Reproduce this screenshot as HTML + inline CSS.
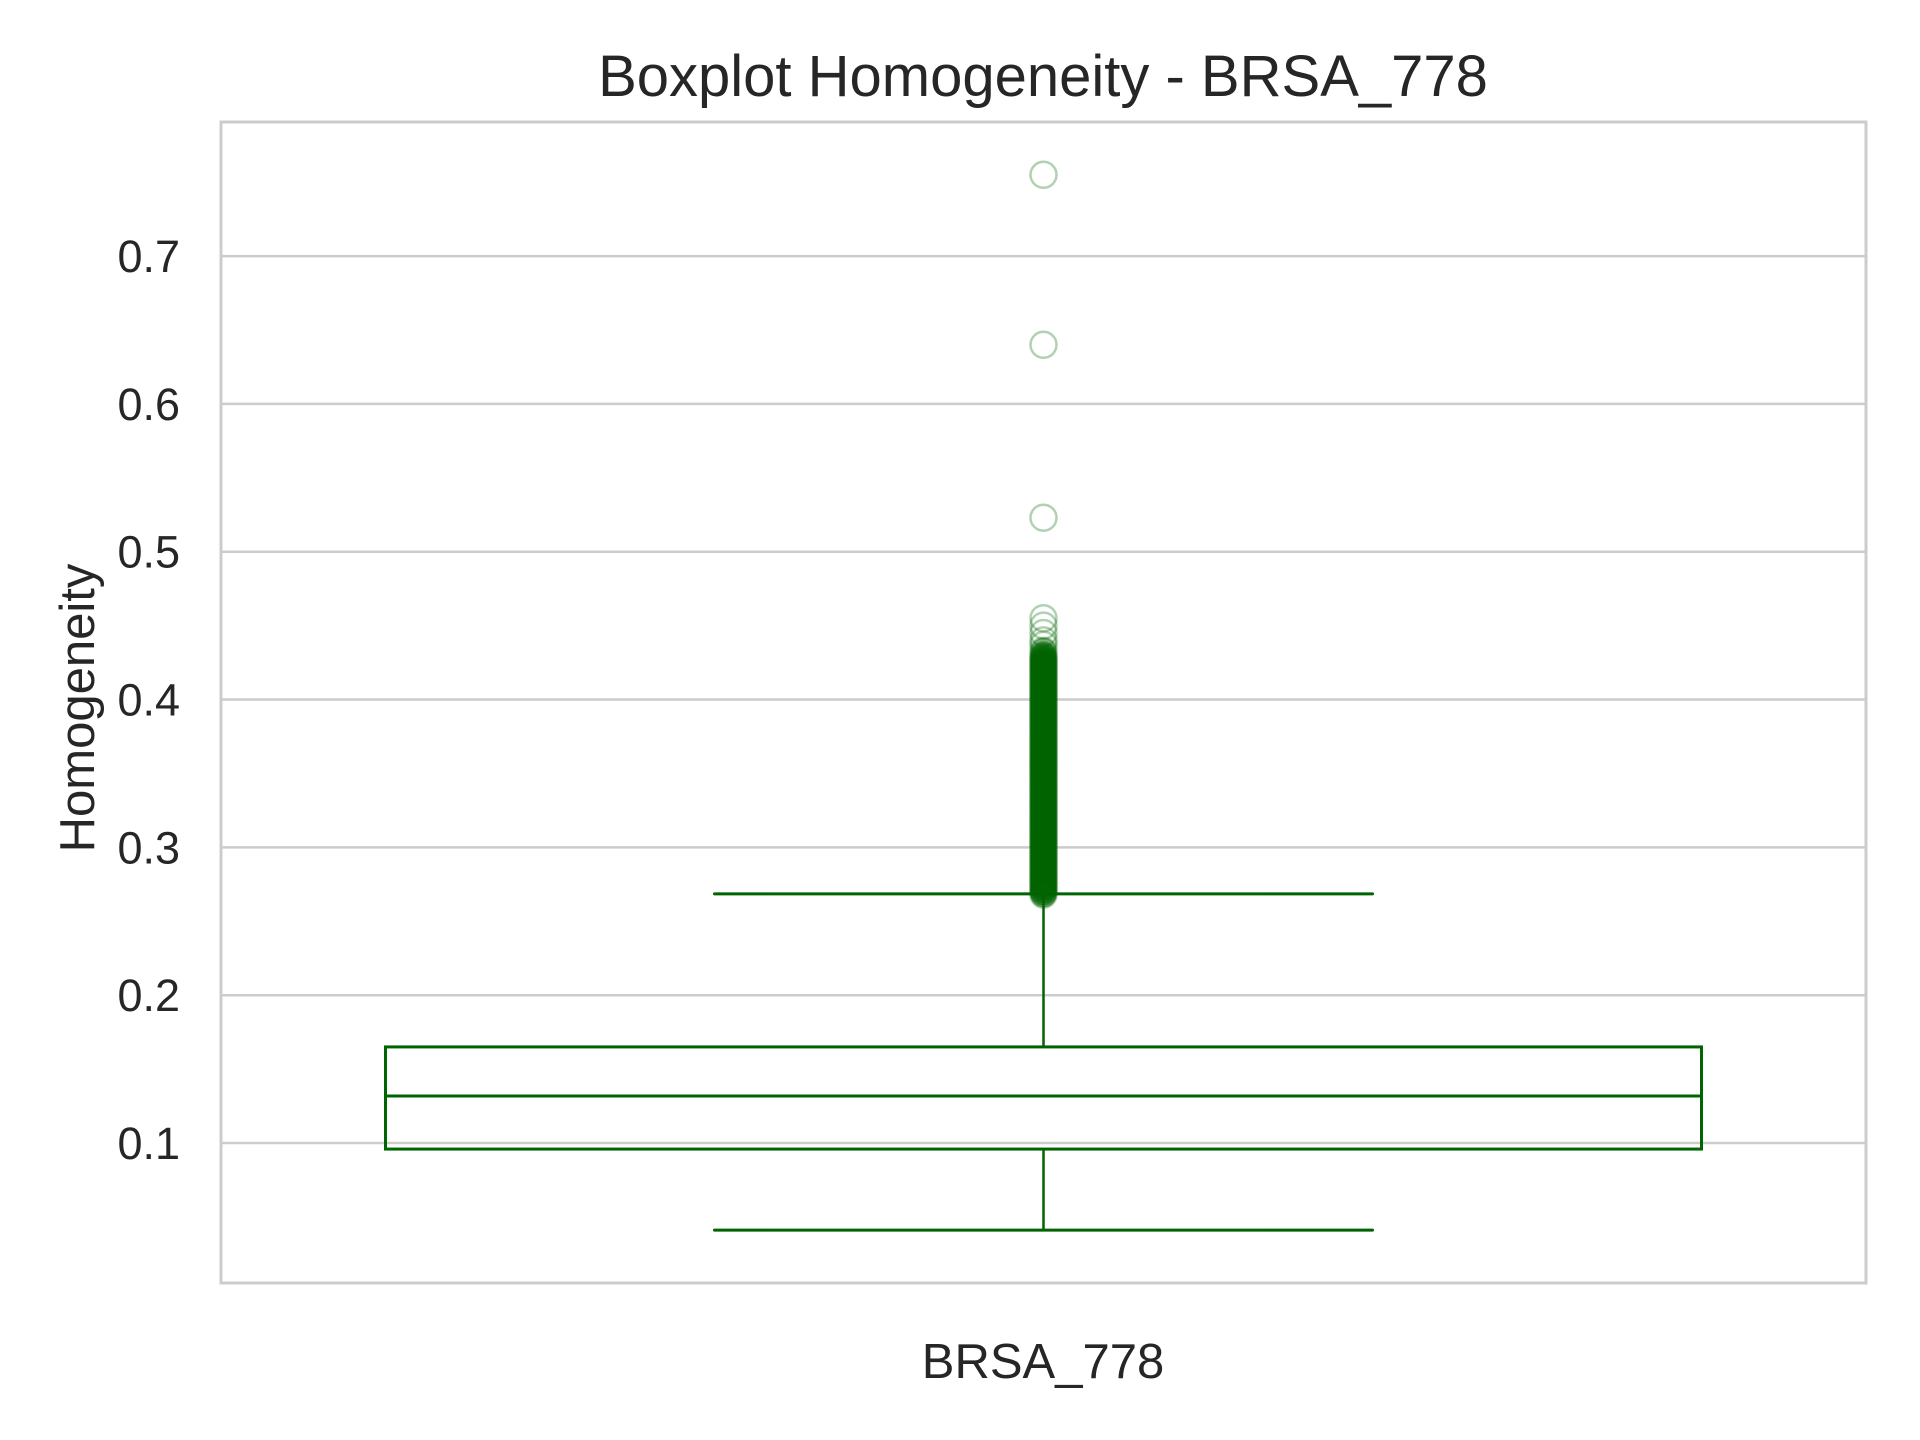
<!DOCTYPE html>
<html><head><meta charset="utf-8">
<style>
html,body{margin:0;padding:0;background:#fff;}
svg{display:block;font-family:"Liberation Sans",Arial,sans-serif;}
</style></head>
<body>
<svg id="chart" width="1920" height="1440" viewBox="0 0 1920 1440" xmlns="http://www.w3.org/2000/svg">
<rect width="1920" height="1440" fill="#fff"/>
<g id="grid"></g>
<g id="box"></g>
<g id="fliers"></g>
<rect x="221" y="122" width="1645" height="1161" fill="none" stroke="#cccccc" stroke-width="3"/>
<g id="yticks"></g>
<text x="1043" y="96" text-anchor="middle" font-size="58" fill="#262626">Boxplot Homogeneity - BRSA_778</text>
<text transform="translate(94,708) rotate(-90)" text-anchor="middle" font-size="49" fill="#262626">Homogeneity</text>
<text x="1043" y="1378" text-anchor="middle" font-size="49" fill="#262626">BRSA_778</text>
</svg>
<script>
const categories = ["BRSA_778"];
const yTicks = [0.1,0.2,0.3,0.4,0.5,0.6,0.7];
const whiskerLow = [0.0411];
const q1 = [0.0959];
const median = [0.1318];
const q3 = [0.165];
const whiskerHigh = [0.2685];
const outliers = [0.755,0.640,0.523,0.455,0.450,0.445,0.440,0.437,0.433,0.430,0.4285,0.427,0.4255,0.424,0.4225,0.421,0.4195,0.418,0.4165,0.415,0.4135,0.412,0.4105,0.409,0.4075,0.406,0.4045,0.403,0.4015,0.400,0.3985,0.397,0.3955,0.394,0.3925,0.391,0.3895,0.388,0.3865,0.385,0.3835,0.382,0.3805,0.379,0.3775,0.376,0.3745,0.373,0.3715,0.370,0.3685,0.367,0.3655,0.364,0.3625,0.361,0.3595,0.358,0.3565,0.355,0.3535,0.352,0.3505,0.349,0.3475,0.346,0.3445,0.343,0.3415,0.340,0.3385,0.337,0.3355,0.334,0.3325,0.331,0.3295,0.328,0.3265,0.325,0.3235,0.322,0.3205,0.319,0.3175,0.316,0.3145,0.313,0.3115,0.310,0.3085,0.307,0.3055,0.304,0.3025,0.301,0.2995,0.298,0.2965,0.295,0.2935,0.292,0.2905,0.289,0.2875,0.286,0.2845,0.283,0.2815,0.280,0.2785,0.277,0.2755,0.274,0.2725,0.271,0.2695,0.268];

const NS="http://www.w3.org/2000/svg";
const yMin=0.0053, yMax=0.7907, plotTop=122, plotBottom=1283, plotLeft=221, plotRight=1866;
function yScale(v){return plotBottom-(v-yMin)/(yMax-yMin)*(plotBottom-plotTop);}
const bandW=(plotRight-plotLeft)/categories.length;
function xc(i){return plotLeft+bandW*(i+0.5);}
function mk(tag,attrs,parent){const e=document.createElementNS(NS,tag);for(const k in attrs)e.setAttribute(k,attrs[k]);parent.appendChild(e);return e;}
const grid=document.getElementById('grid'), yt=document.getElementById('yticks');
yTicks.forEach(t=>{
  const l=mk('line',{x1:plotLeft,x2:plotRight,y1:yScale(t),y2:yScale(t),stroke:'#cccccc','stroke-width':2.5},grid);
  
  
  const tx=mk('text',{x:180,y:yScale(t)+16,'text-anchor':'end','font-size':45,fill:'#262626'},yt);
  tx.textContent=t.toFixed(1);
  
  
});
const box=document.getElementById('box'), fl=document.getElementById('fliers');
const G='#006400';
categories.forEach((c,i)=>{
  const cx=xc(i), bw=bandW*0.8, cw=bw*0.5;
  const w1=mk('line',{x1:cx,x2:cx,y1:yScale(whiskerLow[i]),y2:yScale(q1[i]),stroke:G,'stroke-width':2.5},box);
  
  
  const w2=mk('line',{x1:cx,x2:cx,y1:yScale(q3[i]),y2:yScale(whiskerHigh[i]),stroke:G,'stroke-width':2.5},box);
  
  
  const c1=mk('line',{x1:cx-cw/2,x2:cx+cw/2,y1:yScale(whiskerLow[i]),y2:yScale(whiskerLow[i]),stroke:G,'stroke-width':3,'stroke-linecap':'round'},box);
  
  
  const c2=mk('line',{x1:cx-cw/2,x2:cx+cw/2,y1:yScale(whiskerHigh[i]),y2:yScale(whiskerHigh[i]),stroke:G,'stroke-width':3,'stroke-linecap':'round'},box);
  
  
  const r=mk('rect',{x:cx-bw/2,y:yScale(q3[i]),width:bw,height:yScale(q1[i])-yScale(q3[i]),fill:'none',stroke:G,'stroke-width':3},box);
  
  
  const m=mk('line',{x1:cx-bw/2,x2:cx+bw/2,y1:yScale(median[i]),y2:yScale(median[i]),stroke:G,'stroke-width':3},box);
  
  
  outliers.forEach(v=>{
    const dense = v<0.434;
    const o=mk('circle',{cx:cx,cy:yScale(v),r:13,fill:dense?G:'none','fill-opacity':dense?0.5:0,stroke:G,'stroke-opacity':0.3,'stroke-width':2.5},fl);
    
    
  });
});
</script>
</body></html>
